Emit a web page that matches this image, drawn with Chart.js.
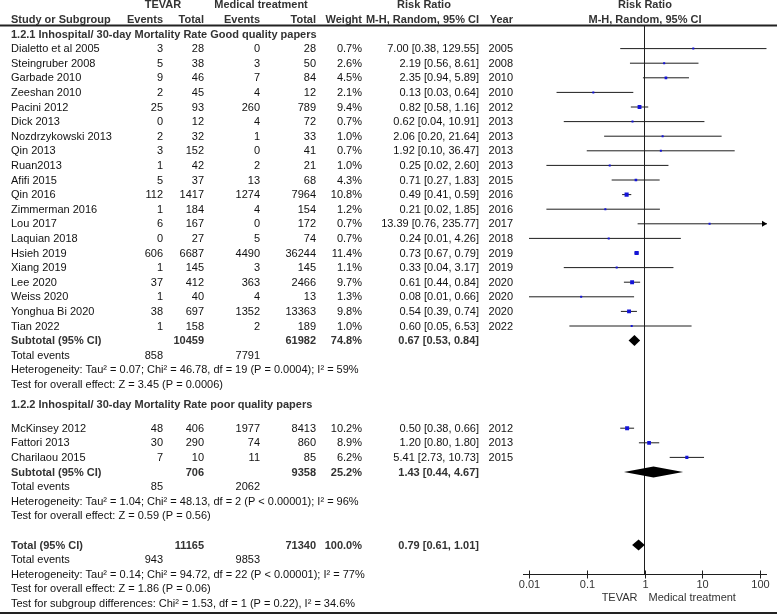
<!DOCTYPE html>
<html><head><meta charset="utf-8">
<script src="https://cdn.jsdelivr.net/npm/chart.js@4.4.1/dist/chart.umd.min.js"></script>
<style>html,body{margin:0;padding:0;background:#fff;}#wrap{width:777px;height:615px;}</style>
</head><body><div id="wrap"><canvas id="c" width="777" height="615"></canvas></div>
<script>
// ---------- DATA ----------
const sectionTitles = ["1.2.1 Inhospital/ 30-day Mortality Rate Good quality papers",
                       "1.2.2 Inhospital/ 30-day Mortality Rate poor quality papers"];

const studies1 = ["Dialetto et al 2005","Steingruber 2008","Garbade 2010","Zeeshan 2010","Pacini 2012","Dick 2013","Nozdrzykowski 2013","Qin 2013","Ruan2013","Afifi 2015","Qin 2016","Zimmerman 2016","Lou 2017","Laquian 2018","Hsieh 2019","Xiang 2019","Lee 2020","Weiss 2020","Yonghua Bi 2020","Tian 2022"];
const tevarEvents1 = [3,5,9,2,25,0,2,3,1,5,112,1,6,0,606,1,37,1,38,1];
const tevarTotal1  = [28,38,46,45,93,12,32,152,42,37,1417,184,167,27,6687,145,412,40,697,158];
const medEvents1   = [0,3,7,4,260,4,1,0,2,13,1274,4,0,5,4490,3,363,4,1352,2];
const medTotal1    = [28,50,84,12,789,72,33,41,21,68,7964,154,172,74,36244,145,2466,13,13363,189];
const weight1      = [0.7,2.6,4.5,2.1,9.4,0.7,1.0,0.7,1.0,4.3,10.8,1.2,0.7,0.7,11.4,1.1,9.7,1.3,9.8,1.0];
const rr1          = [7.00,2.19,2.35,0.13,0.82,0.62,2.06,1.92,0.25,0.71,0.49,0.21,13.39,0.24,0.73,0.33,0.61,0.08,0.54,0.60];
const lo1          = [0.38,0.56,0.94,0.03,0.58,0.04,0.20,0.10,0.02,0.27,0.41,0.02,0.76,0.01,0.67,0.04,0.44,0.01,0.39,0.05];
const hi1          = [129.55,8.61,5.89,0.64,1.16,10.91,21.64,36.47,2.60,1.83,0.59,1.85,235.77,4.26,0.79,3.17,0.84,0.66,0.74,6.53];
const year1        = [2005,2008,2010,2010,2012,2013,2013,2013,2013,2015,2016,2016,2017,2018,2019,2019,2020,2020,2020,2022];

const studies2 = ["McKinsey 2012","Fattori 2013","Charilaou 2015"];
const tevarEvents2 = [48,30,7];
const tevarTotal2  = [406,290,10];
const medEvents2   = [1977,74,11];
const medTotal2    = [8413,860,85];
const weight2      = [10.2,8.9,6.2];
const rr2          = [0.50,1.20,5.41];
const lo2          = [0.38,0.80,2.73];
const hi2          = [0.66,1.80,10.73];
const year2        = [2012,2013,2015];

const pooledLabels     = ["Subtotal (95% CI)","Subtotal (95% CI)","Total (95% CI)"];
const pooledTevarTotal = [10459,706,11165];
const pooledMedTotal   = [61982,9358,71340];
const pooledWeight     = [74.8,25.2,100.0];
const pooledRR         = [0.67,1.43,0.79];
const pooledLo         = [0.53,0.44,0.61];
const pooledHi         = [0.84,4.67,1.01];
const totalEventsTevar = [858,85,943];
const totalEventsMed   = [7791,2062,9853];
const heterogeneity = [
  "Heterogeneity: Tau\u00b2 = 0.07; Chi\u00b2 = 46.78, df = 19 (P = 0.0004); I\u00b2 = 59%",
  "Heterogeneity: Tau\u00b2 = 1.04; Chi\u00b2 = 48.13, df = 2 (P < 0.00001); I\u00b2 = 96%",
  "Heterogeneity: Tau\u00b2 = 0.14; Chi\u00b2 = 94.72, df = 22 (P < 0.00001); I\u00b2 = 77%"];
const overallEffect = [
  "Test for overall effect: Z = 3.45 (P = 0.0006)",
  "Test for overall effect: Z = 0.59 (P = 0.56)",
  "Test for overall effect: Z = 1.86 (P = 0.06)"];
const subgroupTest = "Test for subgroup differences: Chi\u00b2 = 1.53, df = 1 (P = 0.22), I\u00b2 = 34.6%";

const xTicks = [0.01, 0.1, 1, 10, 100];
const xTickLabels = ["0.01","0.1","1","10","100"];
const favoursLeft = "TEVAR";
const favoursRight = "Medical treatment";

// ---------- LAYOUT (row indices) ----------
const rows1 = studies1.map((_, i) => i + 1);
const rows2 = studies2.map((_, i) => 27 + i);
const pooledRows = [21, 30, 35];
const secRows = [0, 25.4];

const allLo = lo1.concat(lo2), allHi = hi1.concat(hi2), allRows = rows1.concat(rows2);
const allRR = rr1.concat(rr2), allW = weight1.concat(weight2);

const X_MIN = 0.00787, X_MAX = 132.2;

const ciDatasets = allRows.map((r, i) => ({
  type: 'line',
  data: [{x: allLo[i], y: r}, {x: allHi[i], y: r}],
  borderColor: '#1e1e1e', borderWidth: 1, pointRadius: 0, order: 2
}));

const FONT = '"Liberation Sans", Arial, sans-serif';
const forestPlugin = {
  id: 'forest',
  beforeDraw(chart) {
    const c = chart.ctx;
    c.save(); c.fillStyle = '#fff'; c.fillRect(0, 0, chart.width, chart.height); c.restore();
  },
  afterDraw(chart) {
    const c = chart.ctx, xs = chart.scales.x, ys = chart.scales.y, ca = chart.chartArea;
    const Y = r => ys.getPixelForValue(r);
    c.save();
    // diamonds
    c.fillStyle = '#000';
    pooledRows.forEach((r, i) => {
      const y = Y(r);
      c.beginPath();
      c.moveTo(xs.getPixelForValue(pooledLo[i]), y);
      c.lineTo(xs.getPixelForValue(pooledRR[i]), y - 5.5);
      c.lineTo(xs.getPixelForValue(pooledHi[i]), y);
      c.lineTo(xs.getPixelForValue(pooledRR[i]), y + 5.5);
      c.closePath(); c.fill();
    });
    // arrows for clipped CIs
    allRows.forEach((r, i) => {
      if (allHi[i] > X_MAX) {
        const y = Y(r), x = ca.right;
        c.beginPath(); c.moveTo(x, y); c.lineTo(x - 5, y - 3); c.lineTo(x - 5, y + 3); c.closePath(); c.fill();
      }
      if (allLo[i] < X_MIN) {
        const y = Y(r), x = ca.left;
        c.beginPath(); c.moveTo(x, y); c.lineTo(x + 5, y - 3); c.lineTo(x + 5, y + 3); c.closePath(); c.fill();
      }
    });
    // axis
    const ay = Math.round(Y(37)) + 0.5;
    c.strokeStyle = '#1e1e1e'; c.lineWidth = 1;
    c.beginPath(); c.moveTo(ca.left, ay); c.lineTo(ca.right, ay); c.stroke();
    c.font = '11px ' + FONT; c.fillStyle = '#333'; c.textAlign = 'center'; c.textBaseline = 'middle';
    xTicks.forEach((t, i) => {
      const x = Math.round(xs.getPixelForValue(t)) + 0.5;
      c.beginPath(); c.moveTo(x, ay - 4); c.lineTo(x, ay + 4); c.stroke();
      c.fillText(xTickLabels[i], x, ay + 10.5);
    });
    const x1 = xs.getPixelForValue(1);
    c.textAlign = 'right'; c.fillText(favoursLeft, x1 - 7, ay + 23);
    c.textAlign = 'left'; c.fillText(favoursRight, x1 + 4, ay + 23);

    // horizontal rules
    c.fillStyle = '#222';
    c.fillRect(0, 24.5, chart.width, 2);
    c.fillRect(0, 612, chart.width, 2);

    // table text
    const txt = (s, x, r, align, bold, color) => {
      c.font = (bold ? 'bold ' : '') + '11px ' + FONT;
      c.textAlign = align; c.fillStyle = color || (bold ? '#333' : '#111');
      c.textBaseline = 'middle';
      c.fillText(s, x, Y(r) + 0.5);
    };
    // headers
    txt('TEVAR', 163, -2, 'center', true);
    txt('Medical treatment', 261, -2, 'center', true);
    txt('Risk Ratio', 424, -2, 'center', true);
    txt('Risk Ratio', 645, -2, 'center', true);
    txt('Study or Subgroup', 11, -1, 'left', true);
    txt('Events', 163, -1, 'right', true);
    txt('Total', 204, -1, 'right', true);
    txt('Events', 260, -1, 'right', true);
    txt('Total', 316, -1, 'right', true);
    txt('Weight', 362, -1, 'right', true);
    txt('M-H, Random, 95% CI', 479, -1, 'right', true);
    txt('Year', 513, -1, 'right', true);
    txt('M-H, Random, 95% CI', 645, -1, 'center', true);

    const studyRow = (name, e1, t1, e2, t2, w, rr, lo, hi, yr, r) => {
      txt(name, 11, r, 'left');
      txt(String(e1), 163, r, 'right');
      txt(String(t1), 204, r, 'right');
      txt(String(e2), 260, r, 'right');
      txt(String(t2), 316, r, 'right');
      txt(w.toFixed(1) + '%', 362, r, 'right');
      txt(rr.toFixed(2) + ' [' + lo.toFixed(2) + ', ' + hi.toFixed(2) + ']', 479, r, 'right');
      txt(String(yr), 513, r, 'right');
    };
    txt(sectionTitles[0], 11, secRows[0], 'left', true);
    studies1.forEach((s, i) => studyRow(s, tevarEvents1[i], tevarTotal1[i], medEvents1[i], medTotal1[i], weight1[i], rr1[i], lo1[i], hi1[i], year1[i], rows1[i]));
    txt(sectionTitles[1], 11, secRows[1], 'left', true);
    studies2.forEach((s, i) => studyRow(s, tevarEvents2[i], tevarTotal2[i], medEvents2[i], medTotal2[i], weight2[i], rr2[i], lo2[i], hi2[i], year2[i], rows2[i]));

    pooledRows.forEach((r, i) => {
      txt(pooledLabels[i], 11, r, 'left', true);
      txt(String(pooledTevarTotal[i]), 204, r, 'right', true);
      txt(String(pooledMedTotal[i]), 316, r, 'right', true);
      txt(pooledWeight[i].toFixed(1) + '%', 362, r, 'right', true);
      txt(pooledRR[i].toFixed(2) + ' [' + pooledLo[i].toFixed(2) + ', ' + pooledHi[i].toFixed(2) + ']', 479, r, 'right', true);
      txt('Total events', 11, r + 1, 'left');
      txt(String(totalEventsTevar[i]), 163, r + 1, 'right');
      txt(String(totalEventsMed[i]), 260, r + 1, 'right');
      txt(heterogeneity[i], 11, r + 2, 'left');
      txt(overallEffect[i], 11, r + 3, 'left');
    });
    txt(subgroupTest, 11, 39, 'left');
    c.restore();
  }
};

new Chart(document.getElementById('c'), {
  type: 'scatter',
  data: {
    datasets: [
      {
        type: 'scatter',
        data: allRows.map((r, i) => ({x: allRR[i], y: r})),
        pointStyle: 'rect',
        pointRadius: allW.map(w => Math.max(2, 1.25 * Math.sqrt(w)) / Math.SQRT2),
        pointBackgroundColor: '#1414d8', pointBorderWidth: 0, borderWidth: 0,
        order: 0
      },
      {
        type: 'line',
        data: [{x: 1, y: -0.55}, {x: 1, y: 37}],
        borderColor: '#1e1e1e', borderWidth: 1, pointRadius: 0, order: 3
      },
      ...ciDatasets
    ]
  },
  options: {
    responsive: false, animation: false, devicePixelRatio: 1,
    layout: {padding: {left: 523, right: 10, top: 19.4, bottom: 40.8}},
    plugins: {legend: {display: false}, tooltip: {enabled: false}},
    scales: {
      x: {type: 'logarithmic', min: X_MIN, max: X_MAX, bounds: 'data', display: false},
      y: {type: 'linear', min: -1, max: 37, reverse: true, bounds: 'data', display: false}
    }
  },
  plugins: [forestPlugin]
});
</script>
</body></html>
